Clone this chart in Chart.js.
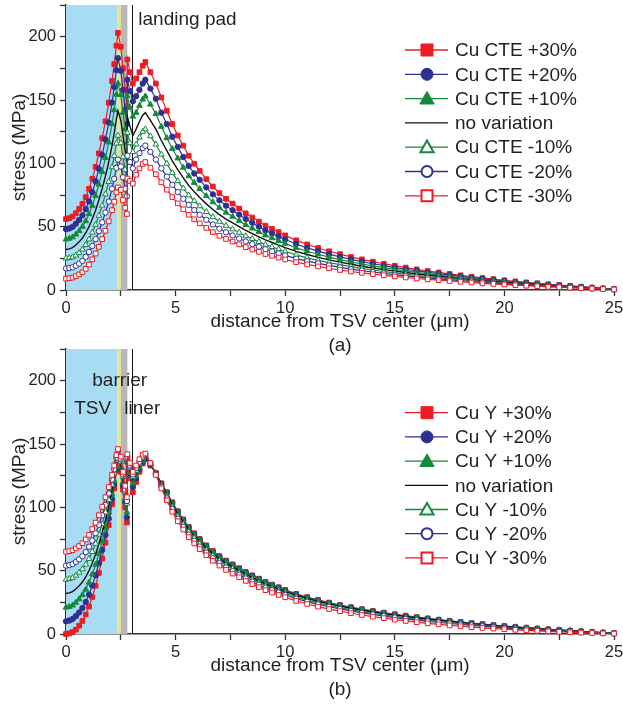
<!DOCTYPE html>
<html>
<head>
<meta charset="utf-8">
<script src="https://cdn.jsdelivr.net/npm/chart.js@4.4.1/dist/chart.umd.min.js"></script>
<style>
  html, body { margin: 0; padding: 0; background: #fff; }
  body { width: 623px; height: 711px; position: relative; overflow: hidden; }
  canvas { position: absolute; left: 0; }
  #chartA { top: 0; }
  #chartB { top: 344px; }
</style>
</head>
<body>
<canvas id="chartA" width="623" height="356"></canvas>
<canvas id="chartB" width="623" height="356"></canvas>
<script>
// x positions (µm): inside TSV / barrier / liner, then outside in silicon
const xTsv = [0, 0.15, 0.3, 0.45, 0.6, 0.75, 0.9, 1.05, 1.2, 1.35, 1.5, 1.65, 1.8, 1.95, 2.1, 2.2, 2.3, 2.37, 2.5, 2.6, 2.7, 2.78];
const xOut = [2.8, 2.92, 3.05, 3.2, 3.35, 3.5, 3.62, 3.85, 4.1, 4.35, 4.6, 4.85, 5.1, 5.35, 5.6, 5.85, 6.1,
  6.4, 6.7, 7.0, 7.3, 7.6, 7.9, 8.2, 8.5, 8.8, 9.1, 9.4, 9.7, 10,
  10.5, 11, 11.5, 12, 12.5, 13, 13.5, 14, 14.5, 15, 15.5, 16, 16.5, 17, 17.5,
  18, 18.5, 19, 19.5, 20, 20.5, 21, 21.5, 22, 22.5, 23, 23.5, 24, 24.5, 25];
const xAll = xTsv.concat(xOut);

const cteLabels = ['Cu CTE +30%', 'Cu CTE +20%', 'Cu CTE +10%', 'no variation', 'Cu CTE -10%', 'Cu CTE -20%', 'Cu CTE -30%'];
const modLabels = ['Cu Y +30%', 'Cu Y +20%', 'Cu Y +10%', 'no variation', 'Cu Y -10%', 'Cu Y -20%', 'Cu Y -30%'];

// shared reference curve (no variation)
const noVar = [32, 32.5, 33.5, 35.5, 38, 41, 45, 50, 56, 63, 71, 80, 90, 101, 114, 124, 135, 141.5, 134, 122, 110, 101,
  137, 129, 122, 127, 133, 138, 140, 134, 127, 118, 110, 102, 95, 88.5, 82.5, 77.5, 73, 68, 63.5, 59.5, 56, 53, 50, 47, 44.5, 42, 39.5, 37.5, 35.5, 33.5,
  30.5, 28, 25.8, 23.8, 22, 20.3, 18.8, 17.4, 16.1, 14.9, 13.8, 12.7, 11.7, 10.8, 9.9, 9.0, 8.2, 7.4, 6.7, 6.0, 5.3, 4.7, 4.1, 3.5, 3.0, 2.5, 2.0, 1.5, 1.0, 0.6];

// panel (a): Cu CTE variation
const cteP30 = [56, 56.7, 58, 60.6, 64, 68, 73.3, 79.9, 87.8, 97.2, 107.9, 119.9, 133.2, 147.8, 165, 178.3, 192.9, 203, 192, 175, 158, 145,
  182, 172, 163, 167, 172, 177, 180, 172, 163, 152, 141.5, 131, 122, 114, 106, 99.7, 94, 87.5, 81.7, 76.5, 72, 68.2, 64.3, 60.5, 57.2, 54, 50.8, 48.2, 45.7, 43.1,
  39.2, 36, 33.2, 30.6, 28.3, 26.1, 24.2, 22.4, 20.7, 19.2, 17.7, 16.3, 15, 13.9, 12.7, 11.6, 10.5, 9.5, 8.6, 7.7, 6.8, 6, 5.3, 4.5, 3.9, 3.2, 2.6, 1.9, 1.3, 0.8];
const cteP20 = [48, 48.6, 49.8, 52.3, 55.3, 59, 63.8, 69.9, 77.2, 85.8, 95.6, 106.6, 118.8, 132.2, 148, 160.2, 173.6, 183, 173, 158, 142, 131,
  166, 157, 149, 153, 158, 163, 166, 159, 151, 140, 131, 121, 113, 105, 98, 92, 87, 81, 75.5, 70.8, 66.6, 63, 59.5, 56, 53, 50, 47, 44.6, 42.2, 39.9,
  36.3, 33.3, 30.7, 28.3, 26.2, 24.2, 22.4, 20.7, 19.2, 17.7, 16.4, 15.1, 13.9, 12.9, 11.8, 10.7, 9.8, 8.8, 8.0, 7.1, 6.3, 5.6, 4.9, 4.2, 3.6, 3.0, 2.4, 1.8, 1.2, 0.7];
const cteP10 = [40, 40.6, 41.7, 43.9, 46.7, 50, 54.4, 60, 66.6, 74.4, 83.3, 93.3, 104.4, 116.6, 131, 142.1, 154.3, 163, 154, 140, 127, 116,
  153, 144, 137, 140, 145.5, 150.5, 153, 146.5, 139, 129, 120, 111.5, 104, 96.7, 90, 84.7, 79.8, 74.3, 69.4, 65, 61.2, 58, 54.7, 51.4, 48.6, 45.9, 43.2, 41, 38.8, 36.6,
  33.3, 30.6, 28.2, 26, 24, 22.2, 20.5, 19, 17.6, 16.3, 15.1, 13.9, 12.8, 11.8, 10.8, 9.8, 9.0, 8.1, 7.3, 6.6, 5.8, 5.1, 4.5, 3.8, 3.3, 2.7, 2.2, 1.6, 1.1, 0.7];
const cteM10 = [25, 25.3, 25.9, 27.3, 29.3, 32, 35.6, 40, 45.4, 51.6, 58.7, 66.7, 75.6, 85.4, 97, 105.9, 115.7, 122, 116, 105, 95, 87,
  124, 116, 109, 115, 120.5, 125, 127, 121.5, 115, 107, 99.8, 92.5, 86, 80.3, 74.8, 70.3, 66.2, 61.7, 57.6, 54, 50.8, 48, 45.4, 42.6, 40.4, 38.1, 35.8, 34, 32.2, 30.4,
  27.7, 25.4, 23.4, 21.6, 20, 18.4, 17, 15.8, 14.6, 13.5, 12.5, 11.5, 10.6, 9.8, 9, 8.2, 7.4, 6.7, 6.1, 5.4, 4.8, 4.3, 3.7, 3.2, 2.7, 2.3, 1.8, 1.4, 0.9, 0.5];
const cteM20 = [17, 17.3, 17.9, 19.2, 20.9, 23, 26.2, 30.1, 34.8, 40.2, 46.4, 53.4, 61.2, 69.8, 80, 87.8, 96.4, 103, 97.5, 89, 80, 74,
  106, 101, 96, 103, 108, 112, 114, 109, 103, 96, 89.5, 83, 77.3, 72, 67.2, 63.1, 59.4, 55.4, 51.7, 48.4, 45.6, 43.1, 40.7, 38.3, 36.2, 34.2, 32.2, 30.5, 28.9, 27.3,
  24.8, 22.8, 21, 19.4, 17.9, 16.5, 15.3, 14.2, 13.1, 12.1, 11.2, 10.3, 9.5, 8.8, 8.1, 7.3, 6.7, 6.0, 5.5, 4.9, 4.3, 3.8, 3.3, 2.8, 2.4, 2.0, 1.6, 1.2, 0.8, 0.5];
const cteM30 = [9, 9.3, 9.8, 10.9, 12.3, 14, 16.7, 20.1, 24.2, 28.8, 34.1, 40.1, 46.8, 54.2, 63, 69.7, 77.1, 81, 79, 71, 65, 60,
  88, 86, 84, 91, 96, 99.5, 101, 96.5, 91.4, 85, 79.2, 73.4, 68.4, 63.7, 59.4, 55.8, 52.6, 49, 45.7, 42.8, 40.3, 38.2, 36, 33.8, 32, 30.2, 28.4, 27, 25.6, 24.1,
  22, 20.2, 18.6, 17.1, 15.8, 14.6, 13.5, 12.5, 11.6, 10.7, 9.9, 9.1, 8.4, 7.8, 7.1, 6.5, 5.9, 5.3, 4.8, 4.3, 3.8, 3.4, 3.0, 2.5, 2.2, 1.8, 1.4, 1.1, 0.7, 0.4];

// panel (b): Cu Young's modulus variation
const modP30 = [0, 0.5, 1.5, 3.4, 6.6, 10.3, 15.4, 21.7, 29.2, 38.1, 48.2, 59.5, 72.1, 86, 102.4, 115, 128.8, 137, 128, 114, 100, 88,
  136, 123, 112, 120, 128, 134.5, 138, 133, 127, 119, 112, 104, 97, 90.5, 84.5, 79.5, 75, 70, 65.5, 61.5, 58, 55, 52, 49, 46.3, 43.7, 41.1, 39, 36.9, 34.8,
  31.7, 29.1, 26.9, 24.8, 22.9, 21.2, 19.6, 18.2, 16.9, 15.6, 14.5, 13.3, 12.3, 11.3, 10.4, 9.5, 8.6, 7.8, 7.0, 6.3, 5.6, 4.9, 4.3, 3.7, 3.2, 2.6, 2.1, 1.6, 1.1, 0.7];
const modP20 = [10, 10.6, 11.8, 14.1, 17, 20.6, 25.3, 31.1, 38.2, 46.4, 55.8, 66.3, 78.1, 91, 106.2, 118, 130.9, 138.5, 130, 117, 104, 92,
  136.5, 126, 116, 123, 130, 135.5, 139, 133.5, 127, 118.5, 111.5, 103.5, 96.5, 90, 84, 79, 74.5, 69.5, 65, 61, 57.5, 54.5, 51.5, 48.5, 46, 43.4, 40.8, 38.7, 36.6, 34.5,
  31.4, 28.8, 26.6, 24.5, 22.7, 20.9, 19.4, 17.9, 16.6, 15.4, 14.2, 13.1, 12.1, 11.1, 10.2, 9.3, 8.5, 7.6, 6.9, 6.2, 5.5, 4.8, 4.2, 3.6, 3.1, 2.6, 2.1, 1.5, 1.0, 0.6];
const modP10 = [21, 21.5, 22.6, 24.8, 27.5, 30.8, 35.1, 40.6, 47.1, 54.7, 63.4, 73.2, 84, 96, 110.1, 121, 132.9, 140, 132, 120, 107, 96,
  137, 127.5, 119, 125, 131.5, 137, 139.5, 134, 127, 118, 111, 103, 96, 89.5, 83.5, 78.5, 74, 69, 64.5, 60.5, 57, 54, 51, 48, 45.5, 42.9, 40.4, 38.3, 36.2, 34.1,
  31, 28.5, 26.3, 24.2, 22.4, 20.7, 19.2, 17.7, 16.4, 15.2, 14, 12.9, 11.9, 11, 10.1, 9.2, 8.4, 7.5, 6.8, 6.1, 5.4, 4.8, 4.2, 3.6, 3.1, 2.6, 2.0, 1.5, 1.0, 0.6];
const modM10 = [43, 43.5, 44.4, 46.2, 48.5, 51.2, 54.9, 59.4, 64.9, 71.3, 78.6, 86.8, 96, 106, 117.9, 127, 137.1, 143, 136, 124, 112, 103,
  138.5, 131, 124, 129, 134.5, 139, 141, 134.5, 126.5, 117, 108.5, 100, 93, 86.5, 80.7, 75.7, 71.2, 66.2, 61.8, 57.8, 54.3, 51.4, 48.4, 45.4, 43, 40.5, 38, 36.1, 34.1, 32.1,
  29.2, 26.7, 24.6, 22.6, 20.8, 19.2, 17.7, 16.3, 15.1, 13.9, 12.8, 11.8, 10.8, 9.9, 9.1, 8.2, 7.4, 6.7, 6.0, 5.4, 4.7, 4.2, 3.6, 3.1, 2.6, 2.2, 1.7, 1.3, 0.9, 0.5];
const modM20 = [54, 54.4, 55.2, 56.9, 59, 61.4, 64.7, 68.9, 73.8, 79.6, 86.2, 93.7, 101.9, 111, 121.8, 130, 139.1, 144.5, 138, 126, 114, 105,
  140, 133, 126, 131, 136, 140, 142, 135, 126, 116, 107, 98.5, 91, 84.5, 78.5, 73.5, 69, 64.2, 59.8, 55.9, 52.5, 49.6, 46.7, 43.8, 41.3, 38.9, 36.5, 34.6, 32.7, 30.8,
  27.9, 25.5, 23.4, 21.5, 19.8, 18.2, 16.7, 15.4, 14.1, 13, 11.9, 10.9, 10, 9.1, 8.3, 7.5, 6.8, 6.1, 5.4, 4.8, 4.2, 3.7, 3.2, 2.7, 2.3, 1.9, 1.5, 1.1, 0.7, 0.4];
const modM30 = [65, 65.4, 66.1, 67.6, 69.4, 71.7, 74.6, 78.3, 82.8, 87.9, 93.8, 100.5, 107.9, 116, 125.6, 133, 141.2, 146, 140, 128, 117, 108,
  142, 135, 128, 133, 138, 141.5, 142.5, 135, 125.5, 115, 105.5, 96.5, 89, 82.5, 76.5, 71.5, 67, 62.2, 57.8, 54, 50.6, 47.7, 44.8, 41.9, 39.4, 37, 34.6, 32.7, 30.8, 29,
  26.1, 23.7, 21.6, 19.7, 18, 16.4, 15, 13.7, 12.5, 11.3, 10.3, 9.3, 8.4, 7.6, 6.8, 6.1, 5.4, 4.8, 4.3, 3.8, 3.3, 2.9, 2.5, 2.1, 1.7, 1.4, 1.1, 0.8, 0.5, 0.3];

// region boundaries (µm): TSV | barrier | liner | landing pad line
const zoneEdges = [2.35, 2.5, 2.8, 3.03];

const RED = '#ed1c24', BLUE = '#2e3192', GREEN = '#14893c', BLACK = '#111', TEXT = '#231f20';
const FONT = '"Liberation Sans", Arial, sans-serif';

const STYLES = [
  { color: RED, shape: 'rect', filled: true, r: 3.3 },
  { color: BLUE, shape: 'circle', filled: true, r: 2.7 },
  { color: GREEN, shape: 'triangle', filled: true, r: 3.3 },
  { color: BLACK, shape: null },
  { color: GREEN, shape: 'triangle', filled: false, r: 3.3 },
  { color: BLUE, shape: 'circle', filled: false, r: 2.7 },
  { color: RED, shape: 'rect', filled: false, r: 3.3 }
];

Chart.defaults.font.family = FONT;
Chart.defaults.color = TEXT;

function buildSets(series) {
  return series.map((ys, i) => {
    const st = STYLES[i];
    return {
      data: xAll.map((x, k) => ({ x: x, y: ys[k] })),
      showLine: true,
      tension: 0,
      borderColor: st.color,
      borderWidth: st.shape ? 1.2 : 1.4,
      pointStyle: st.shape || false,
      pointRadius: st.shape ? st.r : 0,
      pointBackgroundColor: st.filled ? st.color : '#fff',
      pointBorderColor: st.color,
      pointBorderWidth: 1,
      order: 6 - i,
      clip: 6
    };
  });
}

function drawMarker(ctx, st, x, y) {
  const s = st.filled ? 12 : 11;
  ctx.save();
  ctx.lineWidth = st.filled ? 1 : 2;
  ctx.strokeStyle = st.color;
  ctx.fillStyle = st.filled ? st.color : '#fff';
  ctx.beginPath();
  if (st.shape === 'rect') ctx.rect(x - s / 2, y - s / 2, s, s);
  else if (st.shape === 'circle') ctx.arc(x, y, s / 2, 0, Math.PI * 2);
  else {
    ctx.moveTo(x, y - s * 0.6);
    ctx.lineTo(x + s * 0.6, y + s * 0.45);
    ctx.lineTo(x - s * 0.6, y + s * 0.45);
    ctx.closePath();
  }
  ctx.fill();
  ctx.stroke();
  ctx.restore();
}

// shaded TSV / barrier / liner bands and the landing pad line
const zonePlugin = {
  id: 'zones',
  beforeDatasetsDraw(chart) {
    const { ctx, chartArea: a, scales: { x } } = chart;
    const px = v => x.getPixelForValue(v);
    ctx.save();
    ctx.fillStyle = '#a7dcf4';
    ctx.fillRect(px(0), a.top, px(zoneEdges[0]) - px(0), a.bottom - a.top);
    ctx.fillStyle = '#e2e68c';
    ctx.fillRect(px(zoneEdges[0]), a.top, px(zoneEdges[1]) - px(zoneEdges[0]), a.bottom - a.top);
    ctx.fillStyle = '#b8b8b8';
    ctx.fillRect(px(zoneEdges[1]), a.top, px(zoneEdges[2]) - px(zoneEdges[1]), a.bottom - a.top);
    ctx.strokeStyle = '#111';
    ctx.lineWidth = 1;
    ctx.beginPath();
    ctx.moveTo(Math.round(px(zoneEdges[3])) + 0.5, a.top);
    ctx.lineTo(Math.round(px(zoneEdges[3])) + 0.5, a.bottom);
    ctx.stroke();
    ctx.restore();
  },
  afterDraw(chart, args, opts) {
    const { ctx, scales: { x, y } } = chart;
    ctx.save();
    ctx.fillStyle = TEXT;
    ctx.font = '19px ' + FONT;
    ctx.textBaseline = 'middle';
    (opts.notes || []).forEach(n => {
      ctx.textAlign = n.align;
      ctx.fillText(n.text, x.getPixelForValue(n.x), y.getPixelForValue(n.y));
    });
    // panel label under the axis title
    ctx.textAlign = 'center';
    ctx.fillText(opts.panel, (chart.chartArea.left + chart.chartArea.right) / 2, opts.panelY);
    ctx.restore();
  }
};

const legendPlugin = {
  id: 'sideLegend',
  afterDraw(chart, args, opts) {
    const ctx = chart.ctx;
    ctx.save();
    opts.labels.forEach((txt, i) => {
      const st = STYLES[i];
      const yy = opts.top + i * opts.step;
      ctx.strokeStyle = st.color;
      ctx.lineWidth = 1.3;
      ctx.beginPath();
      ctx.moveTo(405, yy);
      ctx.lineTo(448, yy);
      ctx.stroke();
      if (st.shape) drawMarker(ctx, st, 427, yy);
      ctx.fillStyle = TEXT;
      ctx.font = '19px ' + FONT;
      ctx.textAlign = 'left';
      ctx.textBaseline = 'middle';
      ctx.fillText(txt, 455, yy + 1);
    });
    ctx.restore();
  }
};

function axisOpts(isX) {
  return {
    type: 'linear',
    min: 0,
    max: isX ? 25 : 225,
    ticks: {
      stepSize: isX ? 2.5 : 25,
      autoSkip: false,
      maxRotation: 0,
      padding: isX ? 3 : 4,
      color: TEXT,
      font: { size: 16.5 },
      callback: v => (Math.abs(v % (isX ? 5 : 50)) < 1e-6 ? v : '')
    },
    grid: { drawOnChartArea: false, drawTicks: true, tickLength: 6, tickColor: '#333', tickWidth: 1.3 },
    border: { display: true, color: '#333', width: 1.6 },
    title: isX
      ? { display: true, text: 'distance from TSV center (\u03bcm)', font: { size: 19 }, color: TEXT, padding: { top: 0, bottom: 23 } }
      : { display: true, text: 'stress (MPa)', font: { size: 19 }, color: TEXT, padding: { top: 8, bottom: 0 } },
    afterFit: isX
      ? (s => { s.height = 66; s.paddingLeft = 0; s.paddingRight = 0; })
      : (s => { s.width = 66; s.paddingTop = 0; s.paddingBottom = 0; })
  };
}

function makePanel(id, series, legend, notes, panel) {
  new Chart(document.getElementById(id), {
    type: 'scatter',
    data: { datasets: buildSets(series) },
    options: {
      responsive: false,
      animation: false,
      devicePixelRatio: 1,
      layout: { padding: { left: 0, right: 9, top: 5, bottom: 0 } },
      scales: { x: axisOpts(true), y: axisOpts(false) },
      plugins: {
        legend: { display: false },
        tooltip: { enabled: false },
        sideLegend: legend,
        zones: { notes: notes, panel: panel, panelY: 346 }
      }
    },
    plugins: [zonePlugin, legendPlugin]
  });
}

makePanel('chartA',
  [cteP30, cteP20, cteP10, noVar, cteM10, cteM20, cteM30],
  { labels: cteLabels, top: 50, step: 24.3 },
  [{ text: 'landing pad', x: 3.3, y: 213, align: 'left' }],
  '(a)');

makePanel('chartB',
  [modP30, modP20, modP10, noVar, modM10, modM20, modM30],
  { labels: modLabels, top: 68.7, step: 24.2 },
  [
    { text: 'barrier', x: 2.45, y: 200, align: 'center' },
    { text: 'TSV', x: 1.22, y: 178, align: 'center' },
    { text: 'liner', x: 3.48, y: 178, align: 'center' }
  ],
  '(b)');
</script>
</body>
</html>
